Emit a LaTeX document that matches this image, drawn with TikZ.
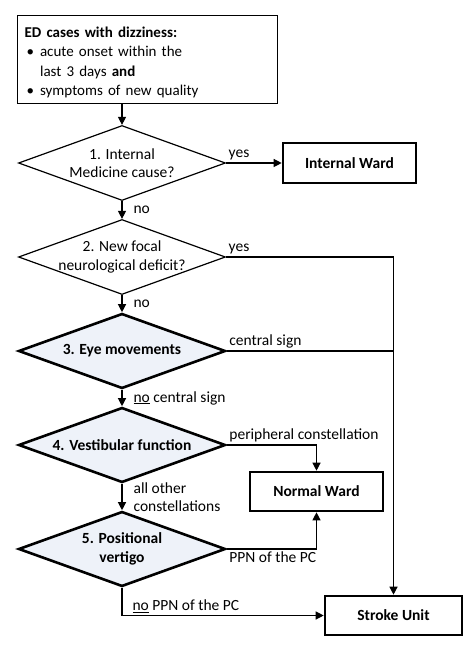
\documentclass[tikz,border=0pt]{standalone}
\usepackage{fontspec}
\setmainfont{Carlito}
\usetikzlibrary{shapes.geometric,arrows.meta,positioning}

\definecolor{decfill}{RGB}{238,242,249}
\newcommand{\flowfont}{\fontsize{15.5}{18.5}\selectfont}

\tikzset{
  decision/.style={diamond, draw, line width=1.2pt, inner sep=0pt,
                   minimum width=207pt, minimum height=75pt},
  keystep/.style={decision, line width=2.6pt, fill=decfill},
  ward/.style={rectangle, draw, line width=2.6pt, minimum width=133pt,
               minimum height=40pt, font=\flowfont\bfseries},
  flow/.style={line width=1.2pt, -{Triangle[length=8pt,width=8pt]}},
  plainline/.style={line width=1.2pt},
  lbl/.style={inner sep=2pt},
  downlbl/.style={lbl, anchor=west, xshift=9pt, align=left},
  boldlbl/.style={font=\flowfont\bfseries, align=center}
}

\begin{document}
\begin{tikzpicture}[x=1pt, y=-1pt, font=\flowfont]
  \useasboundingbox (0,0) rectangle (469,660);

  % entry criteria
  \node[draw, line width=1.2pt, anchor=north west, text width=246pt,
        inner xsep=7pt, minimum height=88pt, align=left] (start) at (17,15)
    {\fontsize{15}{19.2}\selectfont
     \raisebox{-3pt}[\height][\depth]{%
     \begin{tabular}{@{}l@{\hspace{6pt}}l@{}}
       \multicolumn{2}{@{}l}{\textbf{ED cases with dizziness:}}\\
       \hspace{2pt}\textbullet & acute onset within the\\
                   & last 3 days \textbf{and}\\
       \hspace{2pt}\textbullet & symptoms of new quality
     \end{tabular}}};

  % decisions
  \node[decision, label={[align=center]center:1. Internal\\Medicine cause?}] (q1) at (122,163) {};
  \node[decision, label={[align=center]center:2. New focal\\neurological deficit?}] (q2) at (122,257) {};
  \node[keystep, label={[boldlbl]center:3. Eye movements}] (q3) at (122,351) {};
  \node[keystep, label={[boldlbl]center:4. Vestibular function}] (q4) at (122,445) {};
  \node[keystep, label={[boldlbl]center:5. Positional\\vertigo}] (q5) at (122,549) {};

  % wards
  \node[ward] (internal) at (349.5,163) {Internal Ward};
  \node[ward, minimum height=39pt] (normal) at (316.5,491.5) {Normal Ward};
  \node[ward, minimum width=137pt, minimum height=39pt] (stroke) at (393.5,615.5) {Stroke Unit};

  % connectors
  \draw[flow] (q1.north |- start.south) -- (q1.north);
  \draw[flow] (q1.east) -- node[lbl, pos=0, anchor=south west] {yes} (internal.west);
  \draw[flow] (q1.south) -- node[downlbl] {no} (q2.north);
  \draw[flow] (q2.east) -| node[lbl, pos=0, anchor=south west] {yes} (stroke.north);
  \draw[flow] (q2.south) -- node[downlbl] {no} (q3.north);
  \draw[plainline] (q3.east) -- node[lbl, pos=0, anchor=south west] {central sign} (q3.east -| stroke.north);
  \draw[flow] (q3.south) -- node[downlbl] {\underline{no} central sign} (q4.north);
  \draw[flow] (q4.east) -| node[lbl, pos=0, anchor=south west] {peripheral constellation} (normal.north);
  \draw[flow] (q4.south) -- node[downlbl] {all other\\constellations} (q5.north);
  \draw[flow] (q5.east) -| node[lbl, pos=0, anchor=north west] {PPN of the PC} (normal.south);
  \draw[flow] (q5.south) |- node[lbl, pos=0.5, anchor=south west, xshift=8pt] {\underline{no} PPN of the PC} (stroke.west);
\end{tikzpicture}
\end{document}
